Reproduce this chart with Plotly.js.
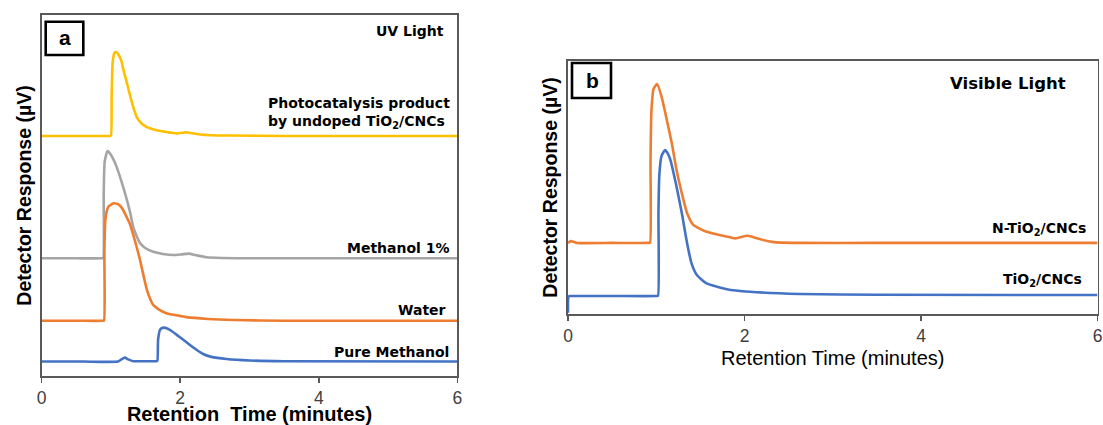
<!DOCTYPE html>
<html>
<head>
<meta charset="utf-8">
<script src="https://cdn.plot.ly/plotly-3.0.1.min.js"></script>
<style>html,body{margin:0;padding:0;background:#fff;}#chart{width:1103px;height:425px;}</style>
</head>
<body>
<div id="chart"></div>
<script>
// ---------- Panel a (UV light) ----------
const uvPhotoT = [0, 0.5, 0.985, 1.00, 1.01, 1.025, 1.05, 1.08, 1.11, 1.15, 1.18, 1.23, 1.28, 1.33, 1.37, 1.42, 1.47, 1.55, 1.66, 1.80, 1.95, 2.05, 2.09, 2.15, 2.29, 2.45, 2.7, 3.5, 6];
const uvPhotoY = [66.5, 66.5, 66.5, 66.6, 78, 87, 89.5, 89.7, 89.0, 87.3, 84.8, 81.2, 77.4, 74.0, 71.8, 70.4, 69.5, 68.7, 68.1, 67.6, 67.2, 67.4, 67.5, 67.3, 66.9, 66.7, 66.6, 66.5, 66.5];

const uvMeth1T = [0, 0.5, 0.875, 0.89, 0.895, 0.91, 0.95, 0.98, 1.03, 1.08, 1.15, 1.23, 1.28, 1.32, 1.37, 1.42, 1.50, 1.61, 1.75, 1.90, 2.02, 2.12, 2.22, 2.38, 2.6, 3.0, 6];
const uvMeth1Y = [32.6, 32.6, 32.6, 32.7, 50, 59.5, 62.3, 61.8, 60.2, 58.0, 54.0, 48.8, 45.0, 41.4, 38.8, 36.8, 35.4, 34.4, 33.8, 33.5, 33.7, 33.9, 33.5, 32.9, 32.7, 32.6, 32.6];

const uvWaterT = [0, 0.5, 0.885, 0.90, 0.905, 0.92, 0.96, 1.03, 1.10, 1.16, 1.22, 1.27, 1.32, 1.37, 1.42, 1.47, 1.52, 1.57, 1.61, 1.70, 1.80, 1.95, 2.09, 2.4, 2.77, 3.5, 6];
const uvWaterY = [15.3, 15.3, 15.3, 15.4, 35, 43.5, 46.8, 47.8, 47.6, 46.5, 44.3, 42.3, 39.2, 35.8, 32.1, 27.8, 23.8, 21.2, 19.7, 18.3, 17.4, 16.8, 16.3, 15.8, 15.5, 15.3, 15.3];

const uvPureT = [0, 0.6, 1.10, 1.15, 1.20, 1.25, 1.32, 1.5, 1.655, 1.67, 1.68, 1.71, 1.76, 1.82, 1.88, 1.95, 2.04, 2.14, 2.24, 2.33, 2.45, 2.67, 3.0, 3.5, 6];
const uvPureY = [4.0, 4.0, 4.0, 4.6, 5.1, 4.6, 4.1, 4.1, 4.1, 4.2, 10.0, 12.9, 13.4, 13.1, 12.4, 11.4, 10.1, 8.6, 7.2, 6.1, 5.3, 4.7, 4.3, 4.1, 4.0];

// ---------- Panel b (visible light) ----------
const visNT = [0, 0.03, 0.06, 0.10, 0.5, 0.915, 0.93, 0.935, 0.945, 0.97, 1.01, 1.06, 1.12, 1.18, 1.23, 1.29, 1.35, 1.42, 1.57, 1.80, 1.89, 1.96, 2.03, 2.08, 2.14, 2.33, 2.6, 3.5, 6];
const visNY = [28.1, 28.8, 28.6, 28.1, 28.1, 28.1, 28.2, 60, 80, 89, 90.9, 85.9, 76.7, 66.8, 56.9, 47.7, 39.8, 35.2, 32.5, 30.6, 29.9, 30.4, 30.9, 30.6, 29.9, 28.4, 28.1, 28.1, 28.1];

const visTT = [0, 0.005, 0.02, 0.05, 0.5, 1.005, 1.02, 1.025, 1.035, 1.06, 1.10, 1.13, 1.16, 1.23, 1.29, 1.35, 1.40, 1.46, 1.57, 1.80, 2.06, 2.63, 3.5, 6];
const visTY = [0.5, 6.8, 7.1, 7.1, 7.1, 7.1, 7.2, 40, 55, 62.5, 64.8, 63.5, 60.9, 50.3, 39.8, 27.9, 20.0, 15.4, 12.1, 9.8, 8.8, 7.9, 7.6, 7.5];

const xTicks = [0, 2, 4, 6];

const YELLOW = '#FFC000', GRAY = '#A5A5A5', ORANGE = '#ED7D31', BLUE = '#4472C4';
const W = 1103, H = 425;
const px = v => v / W, py = v => 1 - v / H;

const lw = 2.6;
const traces = [
  {x: uvPhotoT, y: uvPhotoY, xaxis: 'x', yaxis: 'y', line: {color: YELLOW, width: lw}},
  {x: uvMeth1T, y: uvMeth1Y, xaxis: 'x', yaxis: 'y', line: {color: GRAY, width: lw}},
  {x: uvWaterT, y: uvWaterY, xaxis: 'x', yaxis: 'y', line: {color: ORANGE, width: lw}},
  {x: uvPureT, y: uvPureY, xaxis: 'x', yaxis: 'y', line: {color: BLUE, width: lw}},
  {x: visNT, y: visNY, xaxis: 'x2', yaxis: 'y2', line: {color: ORANGE, width: lw}},
  {x: visTT, y: visTY, xaxis: 'x2', yaxis: 'y2', line: {color: BLUE, width: lw}}
].map(t => {
  const o = Object.assign({type: 'scatter', mode: 'lines', hoverinfo: 'skip'}, t);
  o.line = Object.assign({shape: 'spline', smoothing: 0.5}, t.line);
  return o;
});

const AX = '#595959';
const tickFont = {family: 'Liberation Sans, Arial, sans-serif', size: 17.5, color: '#404040'};
function xaxis(domain, anchor, title, bold, standoff) {
  return {
    domain: domain, anchor: anchor, range: [0, 6], tickvals: xTicks, ticktext: xTicks.map(String),
    ticks: 'outside', ticklen: 5, tickwidth: 1.5, tickcolor: AX,
    showline: true, linecolor: AX, linewidth: 1.6, mirror: true,
    showgrid: false, zeroline: false, tickfont: tickFont, fixedrange: true,
    title: {text: title, standoff: standoff,
      font: {family: 'Liberation Sans, Arial, sans-serif', size: 20, color: '#000', weight: bold ? 'bold' : 'normal'}}
  };
}
function yaxis(domain, anchor, standoff) {
  return {
    domain: domain, anchor: anchor, range: [0, 100], showticklabels: false, ticks: '',
    showline: true, linecolor: AX, linewidth: 1.6, mirror: true,
    showgrid: false, zeroline: false, fixedrange: true,
    title: {text: 'Detector Response (µV)', standoff: standoff,
      font: {family: 'Liberation Sans, Arial, sans-serif', size: 19.5, color: '#000', weight: 'bold'}}
  };
}

const lblFont = {family: 'DejaVu Sans, Verdana, sans-serif', size: 14, color: '#000', weight: 'bold'};
function ann(text, x, y, xanchor, extra) {
  return Object.assign({text: text, xref: 'paper', yref: 'paper', x: px(x), y: py(y),
    xanchor: xanchor, yanchor: 'middle', showarrow: false, font: lblFont, borderpad: 0}, extra || {});
}

const layout = {
  width: W, height: H,
  margin: {l: 0, r: 0, t: 0, b: 0},
  paper_bgcolor: '#fff', plot_bgcolor: '#fff',
  showlegend: false,
  xaxis: xaxis([px(41.7), px(457.3)], 'y', 'Retention\u00a0 Time (minutes)', true, 5),
  yaxis: yaxis([py(376), py(15)], 'x', 3),
  xaxis2: xaxis([px(568), px(1097.5)], 'y2', 'Retention Time (minutes)', false, 6),
  yaxis2: yaxis([py(314), py(61)], 'x2', 3),
  shapes: [
    {type: 'rect', xref: 'paper', yref: 'paper', x0: px(45.7), x1: px(83.3), y0: py(55), y1: py(21.7),
      line: {color: '#000', width: 2.6}, fillcolor: '#fff'},
    {type: 'rect', xref: 'paper', yref: 'paper', x0: px(572), x1: px(611), y0: py(98), y1: py(63),
      line: {color: '#000', width: 2.6}, fillcolor: '#fff'}
  ],
  annotations: [
    ann('a', 64.5, 38, 'center', {font: {family: 'Liberation Sans, Arial, sans-serif', size: 21, color: '#000', weight: 'bold'}}),
    ann('b', 592, 80, 'center', {font: {family: 'Liberation Sans, Arial, sans-serif', size: 21, color: '#000', weight: 'bold'}}),
    ann('UV Light', 445, 31, 'right'),
    ann('Photocatalysis product<br>by undoped TiO<sub>2</sub>/CNCs', 266.7, 113, 'left', {align: 'left'}),
    ann('Methanol 1%', 451, 248, 'right'),
    ann('Water', 447, 310, 'right'),
    ann('Pure Methanol', 450, 352, 'right'),
    ann('Visible Light', 949, 83, 'left', {font: Object.assign({}, lblFont, {size: 16.5})}),
    ann('N-TiO<sub>2</sub>/CNCs', 1087, 229, 'right'),
    ann('TiO<sub>2</sub>/CNCs', 1083, 280, 'right')
  ]
};

Plotly.newPlot('chart', traces, layout, {displayModeBar: false, staticPlot: true});
</script>
</body>
</html>
